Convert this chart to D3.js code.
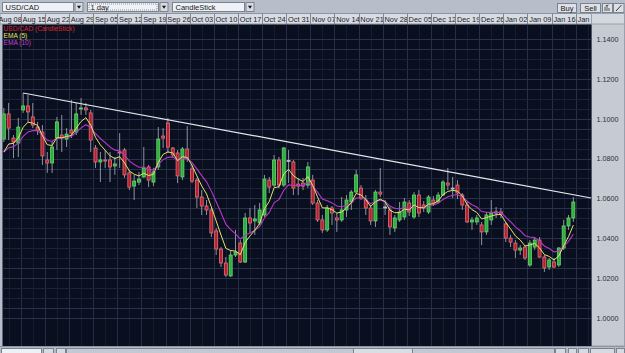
<!DOCTYPE html>
<html>
<head>
<meta charset="utf-8">
<script src="https://cdn.jsdelivr.net/npm/d3@7"></script>
<style>
  body { margin: 0; background: #b8c0cc; }
  svg { display: block; }
  text { font-family: "Liberation Sans", Arial, sans-serif; }
</style>
</head>
<body>
<div id="chart"></div>
<script>
const WIDTH = 625;
const HEIGHT = 353;
const PLOT = {x: 2.5, y: 24.5, w: 589, h: 321.5};

// week header labels, one every 5 trading days (day 0 = Mon Aug 08)
const weekLabels = ['Aug 08','Aug 15','Aug 22','Aug 29','Sep 05','Sep 12','Sep 19','Sep 26',
  'Oct 03','Oct 10','Oct 17','Oct 24','Oct 31','Nov 07','Nov 14','Nov 21','Nov 28',
  'Dec 05','Dec 12','Dec 19','Dec 26','Jan 02','Jan 09','Jan 16','Jan 23'];
const firstDay = 1;   // first candle is Tue Aug 09

const opens = [1.0898,1.1024,1.0903,1.0878,1.1044,1.1064,1.1009,1.0958,1.0933,1.0793,
  1.0778,1.0903,1.0918,1.0898,1.0943,1.0933,1.1049,1.1054,1.1029,1.0853,
  1.0783,1.0793,1.0793,1.0763,1.0833,1.0843,1.0728,1.0662,1.0682,1.0708,
  1.0758,1.0682,1.0758,1.0913,1.0978,1.0853,1.0828,1.0708,1.0848,1.0748,
  1.0692,1.0607,1.0562,1.0542,1.0437,1.0346,1.0276,1.0211,1.0316,1.0376,
  1.0281,1.0502,1.0487,1.0477,1.0517,1.0692,1.0667,1.0793,1.0667,1.0790,
  1.0783,1.0672,1.0677,1.0667,1.0692,1.0577,1.0492,1.0442,1.0552,1.0502,
  1.0492,1.0542,1.0582,1.0632,1.0652,1.0592,1.0552,1.0487,1.0632,1.0557,
  1.0542,1.0452,1.0492,1.0507,1.0577,1.0507,1.0617,1.0567,1.0532,1.0592,
  1.0582,1.0617,1.0677,1.0652,1.0667,1.0617,1.0567,1.0482,1.0482,1.0467,
  1.0432,1.0492,1.0532,1.0532,1.0472,1.0401,1.0376,1.0341,1.0356,1.0266,
  1.0356,1.0391,1.0306,1.0256,1.0281,1.0266,1.0351,1.0462,1.0502];
const highs = [1.1054,1.1079,1.0918,1.1004,1.1129,1.1119,1.1079,1.0984,1.0968,1.0833,
  1.0883,1.1009,1.1019,1.0953,1.1094,1.1079,1.1104,1.1079,1.1044,1.0868,
  1.0833,1.0843,1.0833,1.0808,1.0928,1.0853,1.0743,1.0718,1.0733,1.0858,
  1.0768,1.0753,1.0958,1.0953,1.1004,1.0858,1.0843,1.0858,1.0963,1.0768,
  1.0703,1.0642,1.0592,1.0552,1.0452,1.0356,1.0306,1.0341,1.0442,1.0391,
  1.0527,1.0552,1.0567,1.0577,1.0718,1.0708,1.0818,1.0808,1.0858,1.0843,
  1.0793,1.0703,1.0703,1.0783,1.0718,1.0592,1.0517,1.0567,1.0562,1.0527,
  1.0607,1.0617,1.0642,1.0743,1.0667,1.0617,1.0567,1.0642,1.0753,1.0592,
  1.0557,1.0517,1.0582,1.0602,1.0592,1.0632,1.0642,1.0587,1.0617,1.0612,
  1.0632,1.0692,1.0753,1.0708,1.0692,1.0627,1.0582,1.0507,1.0517,1.0482,
  1.0532,1.0592,1.0557,1.0552,1.0482,1.0417,1.0391,1.0366,1.0366,1.0391,
  1.0406,1.0406,1.0316,1.0301,1.0301,1.0356,1.0492,1.0517,1.0607];
const lows = [1.0883,1.0893,1.0803,1.0808,1.1029,1.0984,1.0953,1.0918,1.0768,1.0728,
  1.0728,1.0843,1.0833,1.0858,1.0903,1.0918,1.1019,1.1019,1.0833,1.0753,
  1.0682,1.0753,1.0682,1.0718,1.0753,1.0703,1.0642,1.0592,1.0667,1.0703,
  1.0657,1.0662,1.0743,1.0853,1.0828,1.0803,1.0677,1.0692,1.0783,1.0677,
  1.0552,1.0517,1.0517,1.0406,1.0316,1.0256,1.0206,1.0206,1.0306,1.0276,
  1.0276,1.0427,1.0417,1.0467,1.0507,1.0627,1.0657,1.0652,1.0657,1.0677,
  1.0617,1.0617,1.0642,1.0652,1.0567,1.0482,1.0427,1.0432,1.0467,1.0432,
  1.0482,1.0507,1.0542,1.0627,1.0592,1.0517,1.0467,1.0457,1.0607,1.0517,
  1.0417,1.0432,1.0482,1.0492,1.0512,1.0497,1.0507,1.0532,1.0522,1.0562,
  1.0577,1.0612,1.0642,1.0602,1.0597,1.0542,1.0477,1.0442,1.0467,1.0366,
  1.0417,1.0467,1.0502,1.0502,1.0381,1.0356,1.0301,1.0316,1.0291,1.0256,
  1.0341,1.0301,1.0231,1.0241,1.0251,1.0256,1.0341,1.0442,1.0482];
const closes = [1.1024,1.0953,1.0883,1.0958,1.1064,1.1034,1.0968,1.0943,1.0813,1.0778,
  1.0858,1.0984,1.0903,1.0923,1.0928,1.1024,1.1054,1.1044,1.0893,1.0783,
  1.0793,1.0788,1.0758,1.0773,1.0828,1.0718,1.0657,1.0687,1.0697,1.0753,
  1.0692,1.0733,1.0898,1.0903,1.0858,1.0818,1.0713,1.0848,1.0798,1.0687,
  1.0607,1.0562,1.0542,1.0427,1.0346,1.0276,1.0216,1.0316,1.0331,1.0281,
  1.0502,1.0477,1.0497,1.0542,1.0697,1.0657,1.0793,1.0667,1.0853,1.0790,
  1.0652,1.0662,1.0662,1.0758,1.0577,1.0492,1.0442,1.0552,1.0527,1.0492,
  1.0542,1.0592,1.0632,1.0718,1.0602,1.0552,1.0487,1.0632,1.0622,1.0557,
  1.0457,1.0502,1.0532,1.0582,1.0532,1.0617,1.0527,1.0552,1.0607,1.0577,
  1.0617,1.0682,1.0667,1.0652,1.0627,1.0567,1.0482,1.0492,1.0502,1.0432,
  1.0517,1.0527,1.0532,1.0522,1.0401,1.0381,1.0341,1.0351,1.0301,1.0376,
  1.0391,1.0306,1.0251,1.0291,1.0256,1.0351,1.0462,1.0502,1.0582];

// EMA levels at the first visible candle
const ema5Start = 1.0833;
const ema10Start = 1.0833;

// hand drawn resistance line: from the Aug 15 high to the right edge
const trendFrom = {day: 5, value: 1.1129};
const trendTo = {day: 122.7, value: 1.0602};

const yTicks = [1.14, 1.12, 1.10, 1.08, 1.06, 1.04, 1.02, 1.00];
const legendItems = [
  {label: 'USD/CAD (CandleStick)', color: '#d8282a'},
  {label: 'EMA (5)', color: '#e6e060'},
  {label: 'EMA (10)', color: '#c440c8'}
];

const xScale = d3.scaleLinear().domain([0, 115]).range([-3.4, 551.6]);
const yScale = d3.scaleLinear().domain([1.00, 1.14]).range([318, 39]);

function ema(values, period, start) {
  const k = 2 / (period + 1);
  let prev = start;
  return values.map((v, i) => (prev = i === 0 ? start : prev + k * (v - prev)));
}

const candles = opens.map((o, i) => ({
  day: firstDay + i, o, h: highs[i], l: lows[i], c: closes[i]
}));

const svg = d3.select('#chart').append('svg')
  .attr('width', WIDTH)
  .attr('height', HEIGHT);

svg.append('rect')
  .attr('width', WIDTH)
  .attr('height', HEIGHT)
  .attr('fill', '#b6bec9');

// ---- toolbar
function dropdown(x, w, label, dashed) {
  svg.append('rect')
    .attr('x', x).attr('y', 2.5).attr('width', w).attr('height', 9)
    .attr('fill', '#eef1f5').attr('stroke', '#7b8391');
  if (dashed) {
    svg.append('rect')
      .attr('x', x + 1.5).attr('y', 4).attr('width', w - 3).attr('height', 6)
      .attr('fill', 'none').attr('stroke', '#555').attr('stroke-width', 0.6)
      .attr('stroke-dasharray', '1,1');
  }
  svg.append('text')
    .attr('x', x + 3).attr('y', 9.8)
    .attr('font-size', 7.5).attr('fill', '#1a1a1a')
    .text(label);
  svg.append('rect')
    .attr('x', x + w + 1.5).attr('y', 2.5).attr('width', 8).attr('height', 9)
    .attr('fill', '#d6dae1').attr('stroke', '#7b8391');
  svg.append('path')
    .attr('d', `M${x + w + 3.5},5.8 h4 l-2,3 z`)
    .attr('fill', '#111');
}
dropdown(2.5, 71, 'USD/CAD', false);
dropdown(87.5, 71, '1 day', true);
dropdown(172.5, 72, 'CandleStick', false);

function button(x, w, label) {
  svg.append('rect')
    .attr('x', x).attr('y', 3.5).attr('width', w).attr('height', 9)
    .attr('fill', '#dde1e7').attr('stroke', '#7b8391');
  svg.append('text')
    .attr('x', x + w / 2).attr('y', 10.8)
    .attr('text-anchor', 'middle')
    .attr('font-size', 7.5).attr('fill', '#1a1a1a')
    .text(label);
}
button(557.5, 19, 'Buy');
button(580.5, 20, 'Sell');
button(602.5, 10, '');
button(613.5, 10.5, '');
svg.append('path')
  .attr('d', 'M605,11 v-4 M607,11 v-6 M609,11 v-3 M605.5,6 l3,-1')
  .attr('stroke', '#333').attr('stroke-width', 0.8).attr('fill', 'none');
svg.append('path')
  .attr('d', 'M616,11 L621.5,5')
  .attr('stroke', '#222').attr('stroke-width', 0.9);

// ---- date header row
const header = svg.append('g');
header.append('rect')
  .attr('x', 0).attr('y', 13.5).attr('width', 591.5).attr('height', 10.5)
  .attr('fill', '#d8dce3').attr('stroke', '#8c94a1');
const headerClip = svg.append('clipPath').attr('id', 'hclip');
headerClip.append('rect').attr('x', 0).attr('y', 13).attr('width', 591).attr('height', 12);
const cells = header.append('g').attr('clip-path', 'url(#hclip)');
weekLabels.forEach((lab, k) => {
  const x0 = xScale(k * 5);
  cells.append('line')
    .attr('x1', Math.round(x0) + 0.5).attr('x2', Math.round(x0) + 0.5)
    .attr('y1', 13.5).attr('y2', 24)
    .attr('stroke', '#7f8795');
  cells.append('text')
    .attr('x', x0 + 1.8).attr('y', 21.6)
    .attr('font-size', 7.4).attr('fill', '#1d1d2b')
    .text(lab);
});

// ---- price panel on the right
svg.append('rect')
  .attr('x', 591.5).attr('y', 13.5).attr('width', 33).attr('height', 332.5)
  .attr('fill', '#c5cad3').attr('stroke', '#9aa1ad');
svg.append('rect')
  .attr('x', 591.5).attr('y', 13.5).attr('width', 33).attr('height', 10.5)
  .attr('fill', '#d3d7de').attr('stroke', '#9aa1ad');

// ---- plot area
svg.append('clipPath').attr('id', 'pclip')
  .append('rect')
  .attr('x', PLOT.x).attr('y', PLOT.y).attr('width', PLOT.w).attr('height', PLOT.h);

svg.append('rect')
  .attr('x', PLOT.x).attr('y', PLOT.y).attr('width', PLOT.w).attr('height', PLOT.h)
  .attr('fill', '#0a0f20');

const plot = svg.append('g').attr('clip-path', 'url(#pclip)');

// grid: weeks vertically, every 0.01 horizontally
const gridV = d3.range(0, weekLabels.length + 1).map(k => k * 5);
plot.append('g').selectAll('line')
  .data(gridV)
  .join('line')
  .attr('x1', d => Math.round(xScale(d)) + 0.5)
  .attr('x2', d => Math.round(xScale(d)) + 0.5)
  .attr('y1', PLOT.y).attr('y2', PLOT.y + PLOT.h)
  .attr('stroke', '#242e48');
plot.append('g').selectAll('line')
  .data(gridV.map(d => d + 2.5))
  .join('line')
  .attr('x1', d => Math.round(xScale(d)) + 0.5)
  .attr('x2', d => Math.round(xScale(d)) + 0.5)
  .attr('y1', PLOT.y).attr('y2', PLOT.y + PLOT.h)
  .attr('stroke', '#161d31');
const gridH = yScale.ticks(30);
plot.append('g').selectAll('line')
  .data(gridH)
  .join('line')
  .attr('x1', PLOT.x).attr('x2', PLOT.x + PLOT.w)
  .attr('y1', d => Math.round(yScale(d)) + 0.5)
  .attr('y2', d => Math.round(yScale(d)) + 0.5)
  .attr('stroke', d => (Math.round(d * 100) % 2 === 0) ? '#28324d' : '#1b2339');

// candles
const bodyW = 3;
const cg = plot.append('g');
cg.selectAll('line.wick')
  .data(candles)
  .join('line')
  .attr('class', 'wick')
  .attr('x1', d => xScale(d.day + 0.5))
  .attr('x2', d => xScale(d.day + 0.5))
  .attr('y1', d => yScale(d.h))
  .attr('y2', d => yScale(d.l))
  .attr('stroke', '#8d929e')
  .attr('stroke-width', 1);
cg.selectAll('rect.body')
  .data(candles)
  .join('rect')
  .attr('class', 'body')
  .attr('x', d => xScale(d.day + 0.5) - bodyW / 2)
  .attr('width', bodyW)
  .attr('y', d => yScale(Math.max(d.o, d.c)))
  .attr('height', d => Math.max(1, Math.abs(yScale(d.o) - yScale(d.c))))
  .attr('fill', d => d.c > d.o ? '#2caf3c' : d.c < d.o ? '#b3222c' : '#9a9aa6')
  .attr('stroke', d => d.c > d.o ? '#6ad66e' : d.c < d.o ? '#e0707c' : '#c0c0cc')
  .attr('stroke-width', 0.8);

// moving averages
const line = d3.line()
  .x((v, i) => xScale(candles[i].day + 0.5))
  .y(v => yScale(v));
plot.append('path')
  .attr('d', line(ema(closes, 10, ema10Start)))
  .attr('fill', 'none')
  .attr('stroke', '#b638c6')
  .attr('stroke-width', 1.1);
plot.append('path')
  .attr('d', line(ema(closes, 5, ema5Start)))
  .attr('fill', 'none')
  .attr('stroke', '#e4e46a')
  .attr('stroke-width', 1);

// trend line
plot.append('line')
  .attr('x1', xScale(trendFrom.day + 0.5)).attr('y1', yScale(trendFrom.value))
  .attr('x2', xScale(trendTo.day + 0.5)).attr('y2', yScale(trendTo.value))
  .attr('stroke', '#e6e8ee')
  .attr('stroke-width', 1.2);

// legend
legendItems.forEach((item, i) => {
  svg.append('text')
    .attr('x', 3.5).attr('y', 30.5 + i * 7.2)
    .attr('font-size', 6.6)
    .attr('fill', item.color)
    .text(item.label);
});

// price axis
const axis = d3.axisRight(yScale)
  .tickValues(yTicks)
  .tickFormat(d3.format('.4f'))
  .tickSize(0)
  .tickPadding(0);
const ax = svg.append('g')
  .attr('transform', 'translate(596.5,0)')
  .call(axis);
ax.select('.domain').remove();
ax.selectAll('text')
  .attr('font-family', '"Liberation Sans", Arial, sans-serif')
  .attr('font-size', 7.2)
  .attr('fill', '#2b2e38');

// ---- bottom status / scroll bar
svg.append('rect')
  .attr('x', 0).attr('y', 346).attr('width', WIDTH).attr('height', 7)
  .attr('fill', '#b3bbc7');
svg.append('line')
  .attr('x1', 0).attr('x2', WIDTH).attr('y1', 346.5).attr('y2', 346.5)
  .attr('stroke', '#8d95a2');
const bottomBoxes = [
  {x: 1.5, w: 40, fill: '#eef1f5'},
  {x: 43.5, w: 10, fill: '#d6dae1'},
  {x: 56.5, w: 9, fill: '#d6dae1'},
  {x: 66.5, w: 488, fill: '#c3c9d2'},
  {x: 353.5, w: 59, fill: '#d9dde4'},
  {x: 555.5, w: 10, fill: '#d6dae1'},
  {x: 568.5, w: 8, fill: '#d6dae1'},
  {x: 578.5, w: 10, fill: '#d6dae1'},
  {x: 590.5, w: 24, fill: '#d6dae1'},
  {x: 616.5, w: 8, fill: '#d6dae1'}
];
svg.append('g').selectAll('rect')
  .data(bottomBoxes)
  .join('rect')
  .attr('x', d => d.x).attr('y', 348.5)
  .attr('width', d => d.w).attr('height', 6)
  .attr('fill', d => d.fill)
  .attr('stroke', '#7b8391');
</script>
</body>
</html>
